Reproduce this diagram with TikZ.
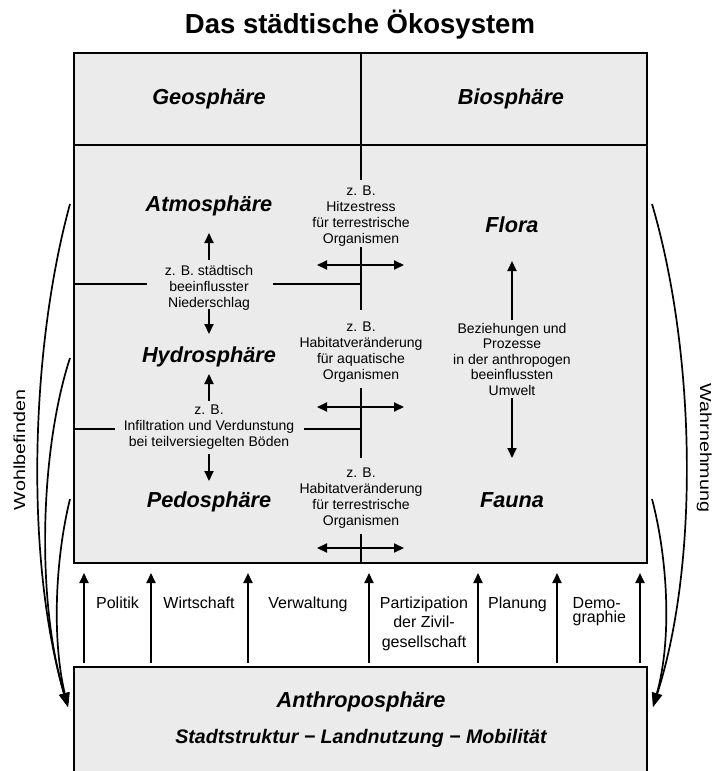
\documentclass[tikz,border=0pt]{standalone}
\usepackage{fontspec}
\setmainfont{Liberation Sans}
\usetikzlibrary{arrows.meta}
\definecolor{boxgray}{RGB}{235,235,235}
\newcommand{\mlines}[1]{\begin{tabular}[t]{@{}c@{}}#1\end{tabular}}
\newcommand{\llines}[1]{\begin{tabular}[t]{@{}l@{}}#1\end{tabular}}
\tikzset{
  boxline/.style={line width=1.6pt, draw=black},
  boxfill/.style={fill=boxgray},
  head/.style={font=\fontsize{21.7}{26}\selectfont\bfseries\itshape, inner sep=0pt, anchor=base},
  small/.style={font=\fontsize{14}{16}\selectfont, inner sep=0pt, anchor=base},
  lbl/.style={font=\fontsize{16}{19.5}\selectfont, inner sep=0pt, anchor=base},
  arr/.style={line width=2pt, -{Triangle[length=10pt,width=9pt]}},
  darr/.style={line width=2pt, {Triangle[length=10pt,width=9pt]}-{Triangle[length=10pt,width=9pt]}},
  sidecurve/.style={line width=1.7pt, -{Triangle[length=14pt,width=10pt]}},
}
\begin{document}
\begin{tikzpicture}[x=1pt,y=-1pt]
\useasboundingbox (0,0) rectangle (721,771);
% title
\node[font=\fontsize{27.5}{32}\selectfont\bfseries, inner sep=0pt, anchor=base] (title) at (360,33) {Das städtische Ökosystem};
% main box
\draw[boxline, boxfill] (74,53) rectangle (647,563);
\draw[boxline] (74,145) -- (647,145);
% centre divider segments
\draw[boxline] (361,53) -- (361,180);
\draw[boxline] (361,247) -- (361,310);
\draw[boxline] (361,388) -- (361,458);
\draw[boxline] (361,534) -- (361,563);
% left column dividers
\draw[boxline] (74,284) -- (147,284);
\draw[boxline] (273,284) -- (361,284);
\draw[boxline] (74,429) -- (115,429);
\draw[boxline] (304,429) -- (361,429);
% headings
\node[head] (geo) at (209,104) {Geosphäre};
\node[head] (bio) at (511,104) {Biosphäre};
\node[head] (atmo) at (209,211) {Atmosphäre};
\node[head] (hydro) at (209,362) {Hydrosphäre};
\node[head] (pedo) at (209,507) {Pedosphäre};
\node[head] (flora) at (512,232) {Flora};
\node[head] (fauna) at (512,507) {Fauna};
% left column texts
\node[small] (niedersch) at (209,275) {\mlines{z. B. städtisch\\beeinflusster\\Niederschlag}};
\node[small] (infiltr) at (209,414) {\mlines{z. B.\\Infiltration und Verdunstung\\bei teilversiegelten Böden}};
% centre texts
\node[small] (hitze) at (361,195) {\mlines{z. B.\\Hitzestress\\für terrestrische\\Organismen}};
\node[small] (habaq) at (361,331) {\mlines{z. B.\\Habitatveränderung\\für aquatische\\Organismen}};
\node[small] (habter) at (361,477) {\mlines{z. B.\\Habitatveränderung\\für terrestrische\\Organismen}};
% right text
\node[font=\fontsize{14}{15.6}\selectfont, inner sep=0pt, anchor=base] (bezieh) at (512,333) {\mlines{Beziehungen und\\Prozesse\\in der anthropogen\\beeinflussten\\Umwelt}};
% arrow coordinates
\coordinate (a1s) at (209,260); \coordinate (a1e) at (209,233);
\coordinate (a2s) at (209,309); \coordinate (a2e) at (209,334);
\coordinate (a3s) at (209,401); \coordinate (a3e) at (209,374);
\coordinate (a4s) at (209,454); \coordinate (a4e) at (209,481);
\coordinate (r1s) at (512,320); \coordinate (r1e) at (512,261);
\coordinate (r2s) at (512,398); \coordinate (r2e) at (512,458);
\draw[arr] (a1s) -- (a1e);
\draw[arr] (a2s) -- (a2e);
\draw[arr] (a3s) -- (a3e);
\draw[arr] (a4s) -- (a4e);
\draw[arr] (r1s) -- (r1e);
\draw[arr] (r2s) -- (r2e);
\coordinate (d1l) at (317,265); \coordinate (d1r) at (404,265);
\coordinate (d2l) at (317,407); \coordinate (d2r) at (404,407);
\coordinate (d3l) at (317,548); \coordinate (d3r) at (404,548);
\draw[darr] (d1l) -- (d1r);
\draw[darr] (d2l) -- (d2r);
\draw[darr] (d3l) -- (d3r);
% bottom box
\fill[boxgray] (74,667) rectangle (647,771);
\draw[boxline] (74,775) -- (74,667) -- (647,667) -- (647,775);
\node[head, font=\fontsize{21.7}{26}\selectfont\bfseries\itshape] (anthro) at (361,707) {Anthroposphäre};
\node[head, font=\fontsize{19.6}{24}\selectfont\bfseries\itshape] (struktur) at (361,743) {Stadtstruktur − Landnutzung − Mobilität};
% bottom arrows
\foreach \i/\x in {1/84,2/151,3/248,4/369,5/478,6/557,7/640}{
  \coordinate (bs\i) at (\x,663);
  \coordinate (be\i) at (\x,573);
  \draw[arr] (bs\i) -- (be\i);
}
\node[lbl] (politik) at (117.5,608) {Politik};
\node[lbl] (wirtschaft) at (199,608) {Wirtschaft};
\node[lbl] (verwaltung) at (308,608) {Verwaltung};
\node[lbl] (partiz) at (424,608) {\mlines{Partizipation\\der Zivil-\\gesellschaft}};
\node[lbl] (planung) at (517.5,608) {Planung};
\node[lbl, anchor=base west] (demo) at (572.5,608) {\llines{Demo-\\[-5pt]graphie}};
% side curves left
\coordinate (wl1) at (70,204);
\coordinate (wl2) at (70,358);
\coordinate (wl3) at (70,499);
\coordinate (wlt) at (68,707);
\draw[sidecurve] (wl1) .. controls (30,350) and (25,560) .. (wlt);
\draw[sidecurve] (wl2) .. controls (40,450) and (36,600) .. (wlt);
\draw[sidecurve] (wl3) .. controls (55,560) and (52,640) .. (wlt);
\node[lbl, rotate=90] (wohl) at (25,450) {\scalebox{1.23}[1]{Wohlbefinden}};
% side curves right
\coordinate (wr1) at (652,204);
\coordinate (wr2) at (652,499);
\coordinate (wrt) at (653,707);
\draw[sidecurve] (wr1) .. controls (695,350) and (700,560) .. (wrt);
\draw[sidecurve] (wr2) .. controls (668,560) and (672,640) .. (wrt);
\node[lbl, rotate=-90] (wahr) at (700,448) {\scalebox{1.23}[1]{Wahrnehmung}};
\end{tikzpicture}
\end{document}
